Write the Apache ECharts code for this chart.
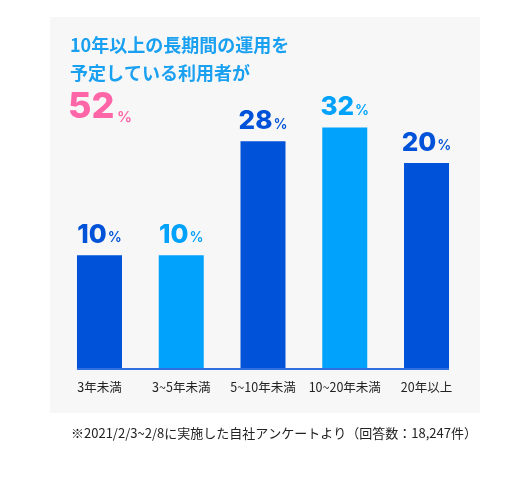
<!DOCTYPE html>
<html><head><meta charset="utf-8">
<script src="https://cdn.jsdelivr.net/npm/echarts@6/dist/echarts.min.js"></script>
<style>html,body{margin:0;padding:0;background:#fff}#c{width:523px;height:477px}</style>
</head><body><div id="c"></div>
<script>
// ---- data ----
const categories = ['3年未満', '3~5年未満', '5~10年未満', '10~20年未満', '20年以上'];
const shares = [10, 10, 28, 32, 20];            // percentages shown in the labels
const barLevels = [11.05, 11.05, 22.1, 23.45, 20]; // bar heights as drawn in the picture
const titleLines = ['10年以上の長期間の運用を', '予定している利用者が'];
const headline = '52';
const footnote = '※2021/2/3~2/8に実施した自社アンケートより（回答数：18,247件）';

// ---- style ----
const DARK = '#0052d8', LIGHT = '#00a2fb', TITLE = '#1aa0f0', PINK = '#ff66a8';
const CJK = '"Noto Sans CJK JP", "Noto Sans", sans-serif';
const NUM = 'Inter, "Noto Sans", sans-serif';

const chart = echarts.init(document.getElementById('c'), null, {renderer: 'canvas'});

function colorAt(i) { return i % 2 === 0 ? DARK : LIGHT; }

const option = {
  backgroundColor: '#ffffff',
  animation: false,
  grid: {left: 58.6, right: 55.6, top: 60, bottom: 108, containLabel: false},
  xAxis: {
    type: 'category', data: categories,
    axisLine: {show: false}, axisTick: {show: false},
    axisLabel: {interval: 0, margin: 12, color: '#222', fontSize: 12.5, fontFamily: CJK}
  },
  yAxis: {type: 'value', min: 0, max: 30, show: false, splitLine: {show: false}},
  series: [{
    type: 'bar', barWidth: 45, z: 3,
    data: barLevels.map((v, i) => ({
      value: v,
      itemStyle: {color: colorAt(i)},
      label: {
        rich: {
          n: {fontFamily: NUM, fontWeight: 800, fontSize: 26, color: colorAt(i)},
          p: {fontFamily: NUM, fontWeight: 600, fontSize: 14, color: colorAt(i), padding: [6, 0, 0, 1]}
        }
      }
    })),
    label: {
      show: true, position: 'top', distance: 7,
      formatter: (p) => '{n|' + shares[p.dataIndex] + '}{p|%}'
    }
  }]
};
chart.setOption(option);

const a = chart.convertToPixel({xAxisIndex: 0, yAxisIndex: 0}, [0, 0]);
const b = chart.convertToPixel({xAxisIndex: 0, yAxisIndex: 0}, [categories.length - 1, 0]);
const half = 22.5;

chart.setOption({
  graphic: [
    {type: 'rect', z: -10, silent: true, shape: {x: 50, y: 17, width: 430, height: 396}, style: {fill: '#f7f7f7'}},
    {type: 'text', z: 10, left: 70, top: 36, style: {text: titleLines[0], fontFamily: CJK, fontWeight: 'bold', fontSize: 18, fill: TITLE}},
    {type: 'text', z: 10, left: 70, top: 64, style: {text: titleLines[1], fontFamily: CJK, fontWeight: 'bold', fontSize: 18, fill: TITLE}},
    {type: 'text', z: 10, x: 68, y: 89, style: {text: headline, fontFamily: NUM, fontWeight: 800, fontSize: 36, fill: PINK}},
    {type: 'text', z: 10, x: 117, y: 110, style: {text: '%', fontFamily: NUM, fontWeight: 600, fontSize: 15, fill: PINK}},
    {type: 'line', z: 20, shape: {x1: a[0] - half, y1: a[1], x2: b[0] + half, y2: b[1]}, style: {stroke: '#2f6fe0', lineWidth: 2}},
    {type: 'text', z: 10, left: 71, top: 427, style: {text: footnote, fontFamily: CJK, fontSize: 13, fill: '#222'}}
  ]
});
</script></body></html>
